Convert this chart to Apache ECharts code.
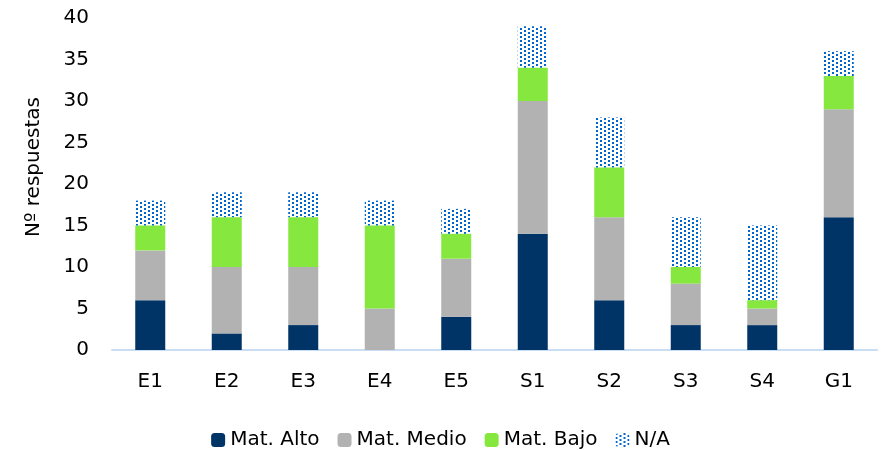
<!DOCTYPE html>
<html>
<head>
<meta charset="utf-8">
<script src="https://cdn.jsdelivr.net/npm/echarts@6/dist/echarts.min.js"></script>
<style>
  html, body { margin: 0; padding: 0; background: #fff; }
  #chart { width: 881px; height: 450px; }
</style>
</head>
<body>
<div id="chart"></div>
<script>
const categories = ['E1', 'E2', 'E3', 'E4', 'E5', 'S1', 'S2', 'S3', 'S4', 'G1'];
const matAlto  = [6, 2, 3, 0, 4, 14, 6, 3, 3, 16];
const matMedio = [6, 8, 7, 5, 7, 16, 10, 5, 2, 13];
const matBajo  = [3, 6, 6, 10, 3, 4, 6, 2, 1, 4];
const noAplica = [3, 3, 3, 3, 3, 5, 6, 6, 9, 3];
const yTicks = { min: 0, max: 40, interval: 5 };

// dotted fill for the N/A segment: staggered 2px dots
function dotPattern() {
  const c = document.createElement('canvas');
  c.width = 8; c.height = 4;
  const ctx = c.getContext('2d');
  ctx.fillStyle = '#0066CC';
  ctx.fillRect(0, 0, 2, 2);
  ctx.fillRect(4, 2, 2, 2);
  return c;
}
const dots = { image: dotPattern(), repeat: 'repeat' };

const font = 'DejaVu Sans';
const chart = echarts.init(document.getElementById('chart'));

function seg(name, data, color) {
  return {
    name, type: 'bar', stack: 'total', data,
    barWidth: 30,
    itemStyle: { color },
    emphasis: { disabled: true }
  };
}

chart.setOption({
  animation: false,
  textStyle: { fontFamily: font },
  grid: { left: 112, right: 4, top: 18, bottom: 100 },
  legend: {
    top: 425,
    left: 'center',
    itemWidth: 14,
    itemHeight: 14,
    itemGap: 18,
    textStyle: { fontFamily: font, fontSize: 20, color: '#000' },
    data: [
      { name: 'Mat. Alto' },
      { name: 'Mat. Medio' },
      { name: 'Mat. Bajo' },
      { name: 'N/A' }
    ]
  },
  xAxis: {
    type: 'category',
    data: categories,
    axisLine: { lineStyle: { color: '#c9ddf3', width: 2 } },
    axisTick: { show: false },
    axisLabel: { fontFamily: font, fontSize: 20, color: '#000', margin: 22 }
  },
  yAxis: {
    type: 'value',
    min: yTicks.min, max: yTicks.max, interval: yTicks.interval,
    name: 'Nº respuestas',
    nameLocation: 'middle',
    nameGap: 68,
    nameTextStyle: { fontFamily: font, fontSize: 20, color: '#000', padding: [0, 0, 0, 34] },
    axisLine: { show: false },
    axisTick: { show: false },
    splitLine: { show: false },
    axisLabel: { fontFamily: font, fontSize: 20, color: '#000', margin: 23, padding: [4, 0, 0, 0] }
  },
  series: [
    seg('Mat. Alto', matAlto, '#003366'),
    seg('Mat. Medio', matMedio, '#b2b2b2'),
    seg('Mat. Bajo', matBajo, '#86e83e'),
    seg('N/A', noAplica, dots)
  ]
});
</script>
</body>
</html>
